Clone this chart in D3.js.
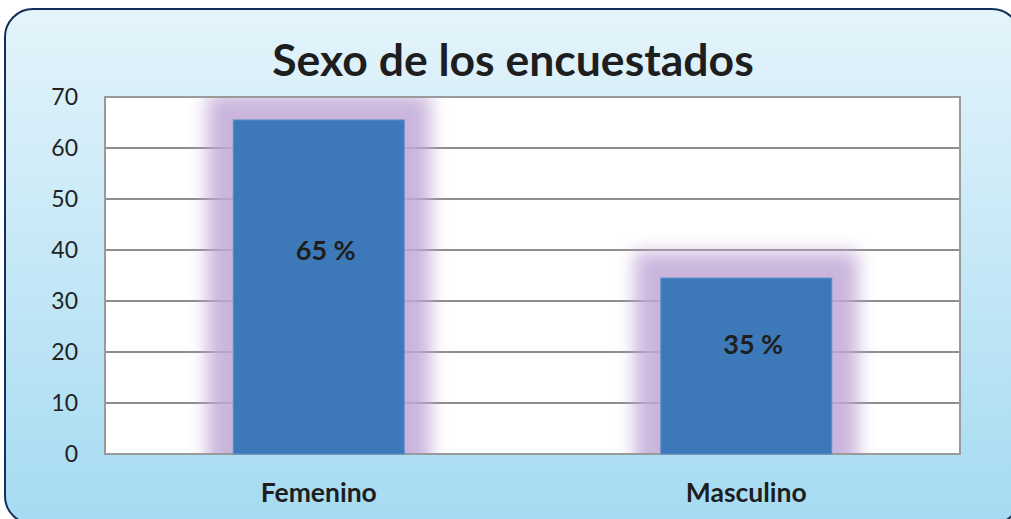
<!DOCTYPE html>
<html>
<head>
<meta charset="utf-8">
<script src="https://cdn.jsdelivr.net/npm/d3@7"></script>
<style>
  html, body { margin: 0; padding: 0; background: #fff; overflow: hidden; }
</style>
</head>
<body>
<figure id="bar" style="margin:0"></figure>
<script>
// chart data
const categories = ["Femenino", "Masculino"];
const values = [65.5, 34.5];
const valueLabels = ["65 %", "35 %"];
const yTicks = [0, 10, 20, 30, 40, 50, 60, 70];
const title = "Sexo de los encuestados";

const W = 1011, H = 519;
const plot = { left: 105, right: 960, top: 97, bottom: 454 };

const svg = d3.select("figure#bar")
  .append("svg")
  .attr("width", W)
  .attr("height", H);

const defs = svg.append("defs");

const bg = defs.append("linearGradient")
  .attr("id", "bg").attr("x1", 0).attr("y1", 0).attr("x2", 0).attr("y2", 1);
bg.append("stop").attr("offset", "0%").attr("stop-color", "#e4f4fb");
bg.append("stop").attr("offset", "100%").attr("stop-color", "#a5dbf2");

const glow = defs.append("filter")
  .attr("id", "glow")
  .attr("filterUnits", "userSpaceOnUse")
  .attr("x", 0).attr("y", 0).attr("width", W).attr("height", H);
glow.append("feMorphology").attr("in", "SourceAlpha").attr("operator", "dilate").attr("radius", 26).attr("result", "d");
glow.append("feGaussianBlur").attr("in", "d").attr("stdDeviation", 9).attr("result", "b");
glow.append("feFlood").attr("flood-color", "#c1a8d6");
glow.append("feComposite").attr("in2", "b").attr("operator", "in");

defs.append("clipPath").attr("id", "plotclip")
  .append("rect")
  .attr("x", plot.left).attr("y", plot.top)
  .attr("width", plot.right - plot.left).attr("height", plot.bottom - plot.top);

// background panel
svg.append("rect")
  .attr("x", 5).attr("y", 9)
  .attr("width", 1015).attr("height", 515)
  .attr("rx", 28).attr("ry", 28)
  .attr("fill", "url(#bg)")
  .attr("stroke", "#14305a")
  .attr("stroke-width", 2);

// title
svg.append("text")
  .attr("x", 513).attr("y", 76)
  .attr("text-anchor", "middle")
  .attr("font-family", "Lato, 'Open Sans', sans-serif")
  .attr("font-weight", "bold")
  .attr("font-size", 44.5)
  .attr("fill", "#1e1e1e")
  .text(title);

const x = d3.scaleBand()
  .domain(categories)
  .range([plot.left, plot.right])
  .paddingInner(0.6)
  .paddingOuter(0.3);

const y = d3.scaleLinear()
  .domain([0, 70])
  .range([plot.bottom, plot.top]);

// plot area
svg.append("rect")
  .attr("x", plot.left).attr("y", plot.top)
  .attr("width", plot.right - plot.left).attr("height", plot.bottom - plot.top)
  .attr("fill", "#fff");

const data = categories.map((c, i) => ({ cat: c, value: values[i], label: valueLabels[i] }));

// gridlines
svg.append("g")
  .selectAll("line")
  .data(yTicks)
  .enter()
  .append("line")
  .attr("x1", plot.left).attr("x2", plot.right)
  .attr("y1", d => y(d)).attr("y2", d => y(d))
  .attr("stroke", "#8e8e8e")
  .attr("stroke-width", 2);

// glow behind bars
svg.append("g")
  .attr("clip-path", "url(#plotclip)")
  .selectAll("rect")
  .data(data)
  .enter()
  .append("rect")
  .attr("x", d => x(d.cat))
  .attr("y", d => y(d.value))
  .attr("width", x.bandwidth())
  .attr("height", d => plot.bottom - y(d.value))
  .attr("fill", "#000")
  .attr("filter", "url(#glow)")
  .attr("opacity", 0.85);

// plot border
svg.append("rect")
  .attr("x", plot.left).attr("y", plot.top)
  .attr("width", plot.right - plot.left).attr("height", plot.bottom - plot.top)
  .attr("fill", "none")
  .attr("stroke", "#9a9a9a")
  .attr("stroke-width", 2);

// bars
svg.append("g")
  .selectAll("rect")
  .data(data)
  .enter()
  .append("rect")
  .attr("x", d => x(d.cat))
  .attr("y", d => y(d.value))
  .attr("width", x.bandwidth())
  .attr("height", d => plot.bottom - y(d.value))
  .attr("fill", "#3d79b9")
  .attr("stroke", "#5a8fcc")
  .attr("stroke-width", 1);

// value labels
svg.append("g")
  .selectAll("text")
  .data(data)
  .enter()
  .append("text")
  .attr("x", d => x(d.cat) + x.bandwidth() / 2 + 7)
  .attr("y", d => y(d.value * 0.6) + 6)
  .attr("text-anchor", "middle")
  .attr("font-family", "Lato, 'Open Sans', sans-serif")
  .attr("font-weight", "bold")
  .attr("font-size", 27)
  .attr("fill", "#1e1e1e")
  .text(d => d.label);

// y axis
const yAxis = svg.append("g")
  .attr("transform", "translate(" + plot.left + ",0)")
  .call(d3.axisLeft(y).tickValues(yTicks).tickSize(0).tickPadding(27));
yAxis.select(".domain").remove();
yAxis.selectAll("text")
  .attr("font-family", "Lato, 'Open Sans', sans-serif")
  .attr("font-size", 23)
  .attr("fill", "#222");

// x axis
const xAxis = svg.append("g")
  .attr("transform", "translate(0," + plot.bottom + ")")
  .call(d3.axisBottom(x).tickSize(0).tickPadding(29));
xAxis.select(".domain").remove();
xAxis.selectAll("text")
  .attr("font-family", "Lato, 'Open Sans', sans-serif")
  .attr("font-weight", "bold")
  .attr("font-size", 26.5)
  .attr("fill", "#1e1e1e");
</script>
</body>
</html>
